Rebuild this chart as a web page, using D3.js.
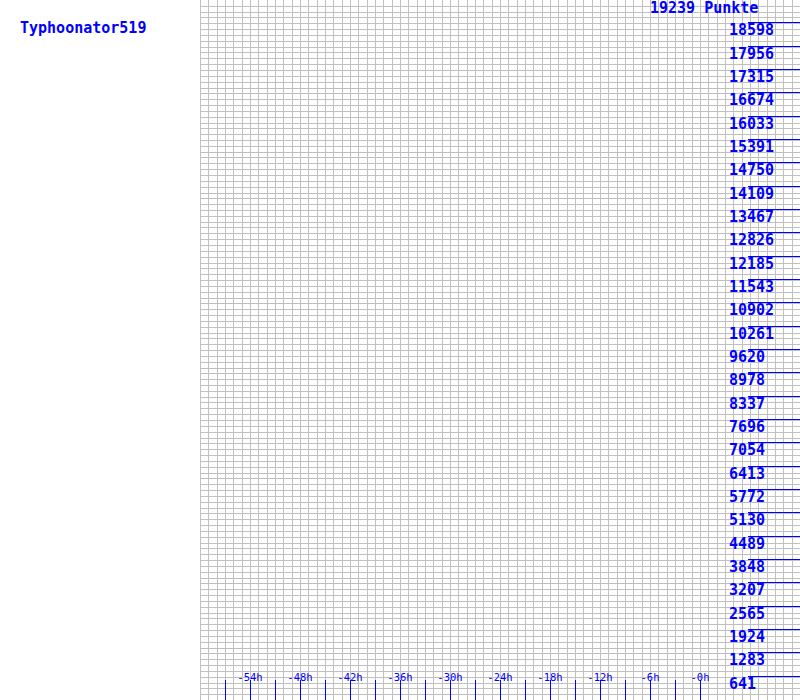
<!DOCTYPE html>
<html>
<head>
<meta charset="utf-8">
<script src="https://cdn.jsdelivr.net/npm/d3@7"></script>
<style>
html,body{margin:0;padding:0;background:#fff;}
svg{display:block;}
text{font-family:"DejaVu Sans Mono",monospace;}
</style>
</head>
<body>
<svg id="chart" width="800" height="700"></svg>
<script>
const playerName = "Typhoonator519";
const totalPoints = 19239;
const pointsLabel = "19239 Punkte";
const yTickValues = [641, 1283, 1924, 2565, 3207, 3848, 4489, 5130, 5772, 6413, 7054, 7696, 8337, 8978, 9620, 10261, 10902, 11543, 12185, 12826, 13467, 14109, 14750, 15391, 16033, 16674, 17315, 17956, 18598];
const xTickHours = [-57, -54, -51, -48, -45, -42, -39, -36, -33, -30, -27, -24, -21, -18, -15, -12, -9, -6, -3, 0];
const xLabelHours = [-54, -48, -42, -36, -30, -24, -18, -12, -6, 0];
const xLabels = ["-54h", "-48h", "-42h", "-36h", "-30h", "-24h", "-18h", "-12h", "-6h", "-0h"];
const series = []; // no history points drawn

const W = 800, H = 700;
const svg = d3.select("#chart");
const blue = "#0000ff", grid = "#c0c0c0";

const x = d3.scaleLinear().domain([-60, 12]).range([200, 800]);
const y = d3.scaleLinear().domain([0, totalPoints]).range([700, 0]);
const px = v => Math.round(v) + 0.5;

// grid
const g = svg.append("g");
g.selectAll("line.v").data(d3.range(-60, 12, 1)).join("line")
  .attr("x1", d => px(x(d))).attr("x2", d => px(x(d)))
  .attr("y1", 0).attr("y2", H)
  .attr("stroke", grid).attr("stroke-width", 1);
g.selectAll("line.h").data(d3.range(0, 120)).join("line")
  .attr("x1", 200).attr("x2", W)
  .attr("y1", d => px(y(d * totalPoints / 120))).attr("y2", d => px(y(d * totalPoints / 120)))
  .attr("stroke", grid).attr("stroke-width", 1);

// y ticks
const yt = svg.append("g");
yt.selectAll("line").data(yTickValues).join("line")
  .attr("x1", 748).attr("x2", W)
  .attr("y1", d => px(y(d)) - 1).attr("y2", d => px(y(d)) - 1)
  .attr("stroke", blue);
yt.selectAll("text").data(yTickValues).join("text")
  .attr("x", 729).attr("y", d => Math.round(y(d)) + 12)
  .attr("fill", blue).attr("font-size", 15).attr("font-weight", "bold")
  .text(d => d);

// x ticks
const xt = svg.append("g");
xt.selectAll("line").data(xTickHours).join("line")
  .attr("x1", d => px(x(d))).attr("x2", d => px(x(d)))
  .attr("y1", 680).attr("y2", H)
  .attr("stroke", blue);
xt.selectAll("text").data(xLabelHours).join("text")
  .attr("x", d => x(d)).attr("y", 681)
  .attr("text-anchor", "middle")
  .attr("fill", blue).attr("font-size", 10.5)
  .text((d, i) => xLabels[i]);

// series line (empty)
svg.append("path").datum(series)
  .attr("fill", "none").attr("stroke", blue)
  .attr("d", d3.line().x(d => x(d.h)).y(d => y(d.v)));

// titles
svg.append("text").attr("x", 20).attr("y", 33)
  .attr("fill", blue).attr("font-size", 15).attr("font-weight", "bold")
  .text(playerName);
svg.append("text").attr("x", 650).attr("y", 13)
  .attr("fill", blue).attr("font-size", 15).attr("font-weight", "bold")
  .text(pointsLabel);
</script>
</body>
</html>
